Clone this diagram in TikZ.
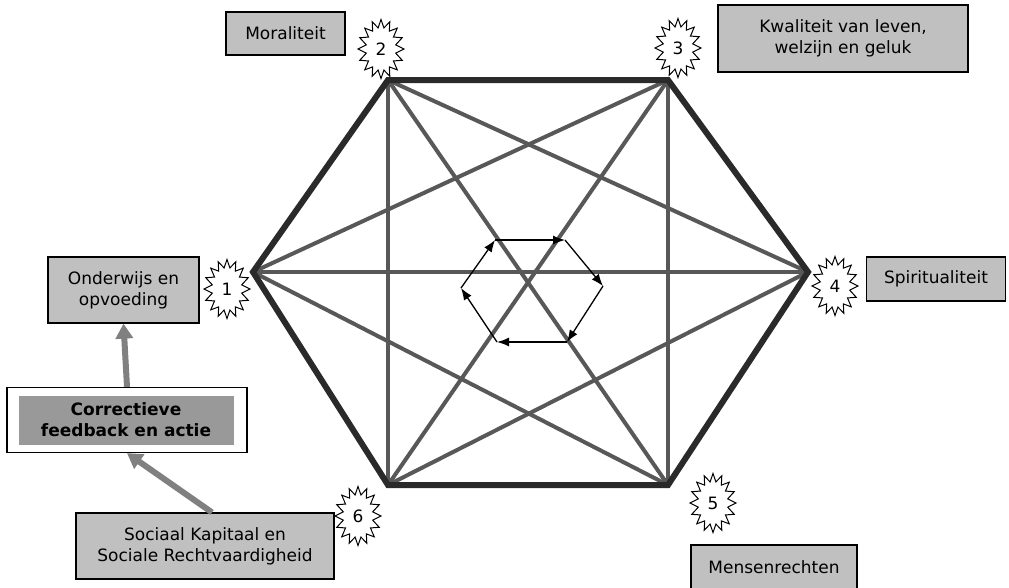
\documentclass[tikz,border=0pt]{standalone}
\usepackage{fontspec}
\setmainfont{DejaVu Sans}
\usepackage{tikz}
\usetikzlibrary{shapes.symbols,arrows.meta}
\definecolor{boxgray}{RGB}{192,192,192}
\definecolor{darkbox}{RGB}{153,153,153}
\definecolor{rimgray}{RGB}{42,42,42}
\definecolor{spokegray}{RGB}{88,88,88}
\definecolor{feedgray}{RGB}{128,128,128}
\begin{document}
\begin{tikzpicture}[x=1pt,y=-1pt,font=\fontsize{17}{21}\selectfont,
	box/.style={draw,line width=1.2pt,fill=boxgray,align=center,inner sep=0pt},
	burst/.style={starburst,starburst points=16,starburst point height=8pt,random starburst=0,draw,fill=white,line width=1pt,minimum width=46pt,minimum height=59pt,inner sep=0pt},
	rim/.style={line width=6pt,draw=rimgray},
	spoke/.style={line width=4pt,draw=spokegray},
	turn/.style={-{Latex[length=12pt,width=9pt]},line width=1.3pt},
	feed/.style={-{Triangle[length=15pt,width=17pt]},line width=6pt,draw=feedgray}]
	\useasboundingbox (0,0) rectangle (1009,587);
	\coordinate (v1) at (253,272);
	\coordinate (v2) at (388,80);
	\coordinate (v3) at (668,80);
	\coordinate (v4) at (808,272);
	\coordinate (v5) at (668,485);
	\coordinate (v6) at (388,485);
	\foreach \a/\b in {1/3,1/4,1/5,2/4,2/5,2/6,3/5,3/6,4/6}
		\draw[spoke] (v\a) -- (v\b);
	\draw[rim] (v1) -- (v2) -- (v3) -- (v4) -- (v5) -- (v6) -- cycle;
	\coordinate (h1) at (495,240);
	\coordinate (h2) at (565,240);
	\coordinate (h3) at (603,286);
	\coordinate (h4) at (567,342);
	\coordinate (h5) at (497,342);
	\coordinate (h6) at (461,288);
	\foreach \a/\b in {1/2,2/3,3/4,4/5,5/6,6/1}
		\draw[turn] (h\a) -- (h\b);
	\node[burst] (s1) at (227,289) {1};
	\node[burst] (s2) at (381,49) {2};
	\node[burst] (s3) at (678,48) {3};
	\node[burst] (s4) at (835,286) {4};
	\node[burst] (s5) at (713,503) {5};
	\node[burst] (s6) at (358,516) {6};
	\node[box,minimum width=119pt,minimum height=43pt] (moral) at (285.5,33.5) {Moraliteit};
	\node[box,minimum width=250pt,minimum height=67pt] (kwal) at (843,38.5) {Kwaliteit van leven,\\welzijn en geluk};
	\node[box,minimum width=151pt,minimum height=66pt] (onder) at (123.5,290) {Onderwijs en\\opvoeding};
	\node[box,minimum width=139pt,minimum height=44pt] (spirit) at (936,279) {Spiritualiteit};
	\node[box,minimum width=166pt,minimum height=44pt] (mens) at (774,567) {Mensenrechten};
	\node[box,minimum width=258pt,minimum height=66pt] (soc) at (205,546) {Sociaal Kapitaal en\\Sociale Rechtvaardigheid};
	\node[draw,line width=1.2pt,fill=white,minimum width=240pt,minimum height=65pt] (feedback) at (127,420) {};
	\node[fill=darkbox,minimum width=215pt,minimum height=49pt,inner sep=0pt,align=center,font=\fontsize{17}{21}\selectfont\bfseries] (act) at (126,420) {Correctieve\\feedback en actie};
	\draw[feed] (feedback.north) -- (onder.south);
	\draw[feed] ([xshift=7pt]soc.north) -- (feedback.south);
\end{tikzpicture}
\end{document}
